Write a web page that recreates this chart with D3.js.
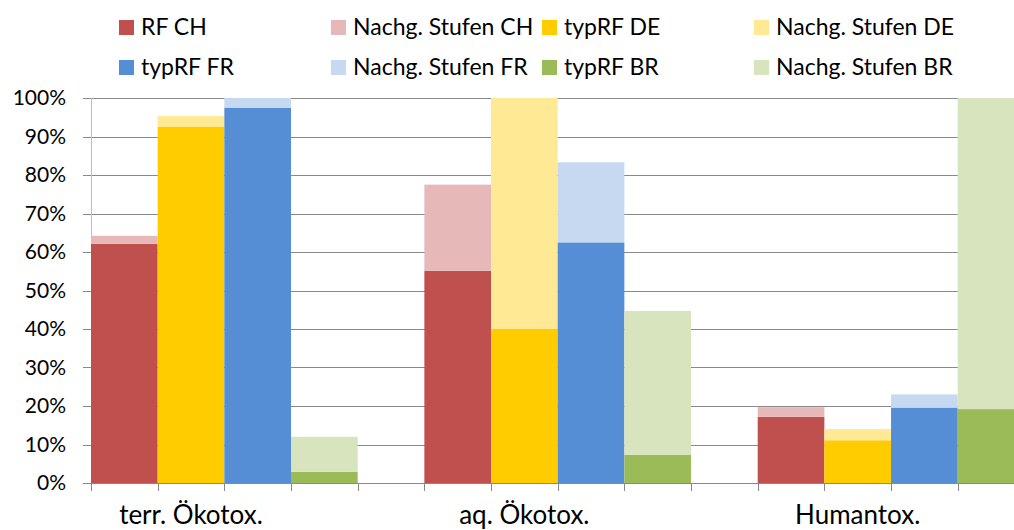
<!DOCTYPE html>
<html>
<head>
<meta charset="utf-8">
<script src="https://cdn.jsdelivr.net/npm/d3@7"></script>
<style>
  html, body { margin: 0; padding: 0; background: #fff; }
  svg { display: block; font-family: Lato, "Open Sans", sans-serif; }
</style>
</head>
<body>
<svg id="chart" width="1014" height="530"></svg>
<script>
// Categories and regions
const categories = ["terr. Ökotox.", "aq. Ökotox.", "Humantox."];
const regions = ["CH", "DE", "FR", "BR"];

// Base shares (%) per region, one value per category
const rfCH  = [62.1, 55.1, 17.2];
const typDE = [92.6, 40.0, 11.1];
const typFR = [97.5, 62.5, 19.6];
const typBR = [2.9, 7.3, 19.2];

// Additional share from downstream stages (%), stacked on top of the base
const nachgCH = [2.1, 22.4, 2.5];
const nachgDE = [2.7, 60.0, 2.9];
const nachgFR = [2.5, 20.8, 3.4];
const nachgBR = [9.1, 37.4, 80.8];

const yTicks = [0, 10, 20, 30, 40, 50, 60, 70, 80, 90, 100];

const legendNames = [
  "RF CH", "Nachg. Stufen CH", "typRF DE", "Nachg. Stufen DE",
  "typRF FR", "Nachg. Stufen FR", "typRF BR", "Nachg. Stufen BR"
];
const baseColors  = { CH: "#C0504D", DE: "#FFCC00", FR: "#558ED5", BR: "#9BBB59" };
const extraColors = { CH: "#E6B9B8", DE: "#FFE994", FR: "#C6D9F1", BR: "#D7E4BD" };
const legendColors = ["#C0504D", "#E6B9B8", "#FFCC00", "#FFE994",
                      "#558ED5", "#C6D9F1", "#9BBB59", "#D7E4BD"];

const baseByRegion  = { CH: rfCH, DE: typDE, FR: typFR, BR: typBR };
const extraByRegion = { CH: nachgCH, DE: nachgDE, FR: nachgFR, BR: nachgBR };

const svg = d3.select("#chart");

// Layout: each category takes five slots (four bars + one empty slot)
const slotsPerCat = 5;
const nSlots = categories.length * slotsPerCat;
const slotW = 66.67;
const plotLeft = 91, plotBottom = 483, plotTop = 98;
const plotRight = plotLeft + nSlots * slotW;

const x = d3.scaleBand()
  .domain(d3.range(nSlots))
  .range([plotLeft, plotRight])
  .paddingInner(0).paddingOuter(0);

const y = d3.scaleLinear().domain([0, 100]).range([plotBottom, plotTop]);

// Horizontal gridlines
svg.append("g")
  .selectAll("line")
  .data(yTicks)
  .join("line")
  .attr("x1", plotLeft - 8)
  .attr("x2", plotRight)
  .attr("y1", d => Math.round(y(d)) + 0.5)
  .attr("y2", d => Math.round(y(d)) + 0.5)
  .attr("stroke", "#898989")
  .attr("stroke-width", 1);

// Vertical value axis line
svg.append("line")
  .attr("x1", plotLeft + 0.5).attr("x2", plotLeft + 0.5)
  .attr("y1", y(100)).attr("y2", y(0))
  .attr("stroke", "#BFBFBF");

// Bar records
const bars = [];
categories.forEach((c, ci) => {
  regions.forEach((r, ri) => {
    const slot = ci * slotsPerCat + ri;
    const b = baseByRegion[r][ci];
    const e = extraByRegion[r][ci];
    bars.push({ slot, y0: 0, y1: b, color: baseColors[r] });
    bars.push({ slot, y0: b, y1: b + e, color: extraColors[r] });
  });
});

svg.append("g")
  .selectAll("rect")
  .data(bars)
  .join("rect")
  .attr("x", d => x(d.slot))
  .attr("width", x.bandwidth())
  .attr("y", d => y(d.y1))
  .attr("height", d => y(d.y0) - y(d.y1))
  .attr("fill", d => d.color);

// Category axis with a tick at every slot boundary
const xAxis = svg.append("g");
xAxis.append("line")
  .attr("x1", plotLeft).attr("x2", plotRight)
  .attr("y1", plotBottom + 0.5).attr("y2", plotBottom + 0.5)
  .attr("stroke", "#898989");
xAxis.selectAll("line.tick")
  .data(d3.range(nSlots + 1))
  .join("line")
  .attr("class", "tick")
  .attr("x1", d => Math.round(plotLeft + d * slotW) + 0.5)
  .attr("x2", d => Math.round(plotLeft + d * slotW) + 0.5)
  .attr("y1", plotBottom)
  .attr("y2", plotBottom + 8)
  .attr("stroke", "#898989");

// Category labels centred on the second slot of each group
xAxis.selectAll("text")
  .data(categories)
  .join("text")
  .attr("x", (d, i) => x(i * slotsPerCat + 1) + x.bandwidth() / 2)
  .attr("y", 524)
  .attr("text-anchor", "middle")
  .attr("font-size", 26)
  .attr("fill", "#000")
  .text(d => d);

// Value axis labels
svg.append("g")
  .selectAll("text")
  .data(yTicks)
  .join("text")
  .attr("x", 66)
  .attr("y", d => y(d))
  .attr("dy", "0.35em")
  .attr("text-anchor", "end")
  .attr("font-size", 21)
  .attr("fill", "#000")
  .text(d => d + "%");

// Legend: two rows of four entries
const legendX = [119, 331, 542, 754];
const legendY = [20, 60];
const legend = svg.append("g")
  .selectAll("g")
  .data(legendNames)
  .join("g")
  .attr("transform", (d, i) => `translate(${legendX[i % 4]},${legendY[Math.floor(i / 4)]})`);
legend.append("rect")
  .attr("width", 15).attr("height", 15)
  .attr("fill", (d, i) => legendColors[i]);
legend.append("text")
  .attr("x", 22)
  .attr("y", 15)
  .attr("font-size", 23)
  .attr("fill", "#000")
  .text(d => d);
</script>
</body>
</html>
